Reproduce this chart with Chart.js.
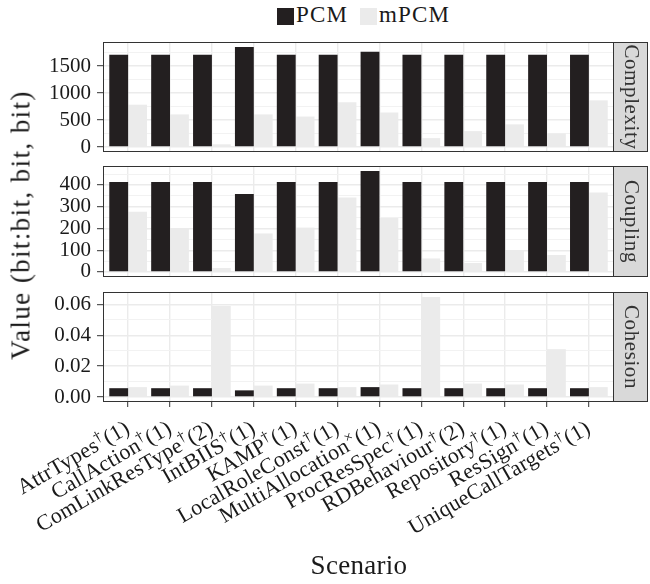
<!DOCTYPE html>
<html>
<head>
<meta charset="utf-8">
<script src="https://cdn.jsdelivr.net/npm/chart.js@4.4.0/dist/chart.umd.min.js"></script>
<style>
  html, body { margin: 0; padding: 0; background: #fff; }
  #wrap { position: relative; width: 650px; height: 584px; overflow: hidden;
          font-family: "Liberation Serif", "Times New Roman", serif; color: #1a1a1a; }
  #wrap canvas { position: absolute; left: 0; }
  .key { position: absolute; top: 8px; width: 17px; height: 17px; }
  .keytxt { position: absolute; top: 2px; font-size: 23px; line-height: 26px; letter-spacing: 1.2px; white-space: nowrap; }
  #ytitle { position: absolute; left: 21px; top: 225px; font-size: 27px; letter-spacing: 1.4px; white-space: nowrap;
            transform: translate(-50%, -50%) rotate(-90deg); }
  #xtitle { position: absolute; left: 359px; top: 550px; font-size: 27px; letter-spacing: 0.3px; white-space: nowrap;
            transform: translateX(-50%); }
</style>
</head>
<body>
<div id="wrap">
  <div class="key" style="left:277px;background:#231F20"></div>
  <div class="keytxt" style="left:296px">PCM</div>
  <div class="key" style="left:360px;background:#EBEBEB"></div>
  <div class="keytxt" style="left:379px">mPCM</div>
  <canvas id="cComplexity" width="650" height="134" style="top:30px"></canvas>
  <canvas id="cCoupling" width="650" height="135" style="top:154px"></canvas>
  <canvas id="cCohesion" width="650" height="304" style="top:280px"></canvas>
  <div id="ytitle">Value (bit:bit, bit, bit)</div>
  <div id="xtitle">Scenario</div>
</div>
<script>
// Scenarios on the x axis, with their superscript marker and number of runs
const categories = ['AttrTypes', 'CallAction', 'ComLinkResType', 'IntBIIS', 'KAMP', 'LocalRoleConst',
                    'MultiAllocation', 'ProcResSpec', 'RDBehaviour', 'Repository', 'ResSign', 'UniqueCallTargets'];
const markers = ['†', '†', '†', '†', '†', '†', '×', '†', '†', '†', '†', '†'];
const runs = [1, 1, 2, 1, 1, 1, 1, 1, 2, 1, 1, 1];

// Complexity (bit)
const complexityPCM  = [1710, 1710, 1710, 1855, 1710, 1710, 1765, 1710, 1710, 1710, 1710, 1710];
const complexityMPCM = [785, 605, 50, 605, 565, 830, 640, 165, 295, 420, 250, 865];
const complexityTicks = [0, 500, 1000, 1500];
const complexityMinor = [250, 750, 1250, 1750];

// Coupling (bit)
const couplingPCM  = [414, 414, 414, 359, 414, 414, 464, 414, 414, 414, 414, 414];
const couplingMPCM = [277, 200, 18, 177, 204, 342, 248, 62, 41, 100, 78, 365];
const couplingTicks = [0, 100, 200, 300, 400];
const couplingMinor = [50, 150, 250, 350, 450];

// Cohesion (bit:bit)
const cohesionPCM  = [0.0057, 0.0057, 0.0057, 0.0043, 0.0057, 0.0057, 0.0064, 0.0057, 0.0057, 0.0057, 0.0057, 0.0057];
const cohesionMPCM = [0.0064, 0.0074, 0.0589, 0.0074, 0.0087, 0.0064, 0.0081, 0.0648, 0.0087, 0.0081, 0.0310, 0.0064];
const cohesionTicks = [0, 0.02, 0.04, 0.06];
const cohesionMinor = [0.01, 0.03, 0.05];

const FONT = '"Liberation Serif", "Times New Roman", serif';
const INK = '#1a1a1a';
const FRAME = '#333333';
const GRID = '#EBEBEB';
const GRID_MINOR = '#F2F2F2';
const PCM_COLOR = '#231F20';
const MPCM_COLOR = '#EBEBEB';
const STRIP_W = 34;

// Panel border plus the grey facet strip on the right
const facetPlugin = {
  id: 'facet',
  afterDraw(chart, args, opts) {
    const { ctx, chartArea: a } = chart;
    ctx.save();
    ctx.lineWidth = 1;
    ctx.strokeStyle = FRAME;
    ctx.strokeRect(a.left + 0.5, a.top + 0.5, a.right - a.left - 1, a.bottom - a.top - 1);
    ctx.fillStyle = '#D9D9D9';
    ctx.fillRect(a.right, a.top + 0.5, STRIP_W, a.bottom - a.top - 1);
    ctx.strokeRect(a.right - 0.5, a.top + 0.5, STRIP_W, a.bottom - a.top - 1);
    ctx.translate(a.right + STRIP_W / 2, (a.top + a.bottom) / 2);
    ctx.rotate(Math.PI / 2);
    ctx.fillStyle = '#333333';
    ctx.font = '21px ' + FONT;
    ctx.letterSpacing = '0.6px';
    ctx.textAlign = 'center';
    ctx.textBaseline = 'middle';
    ctx.fillText(opts.title, 0, 0);
    ctx.restore();
  }
};

// Rotated scenario names under the bottom panel, with raised markers
const scenarioLabels = {
  id: 'scenarioLabels',
  afterDraw(chart) {
    const { ctx, chartArea: a, scales: { x } } = chart;
    const fs = 22, angle = 30 * Math.PI / 180;
    const base = fs + 'px ' + FONT, sup = Math.round(fs * 0.7) + 'px ' + FONT;
    categories.forEach((name, i) => {
      const tail = '(' + runs[i] + ')';
      ctx.save();
      ctx.letterSpacing = '0.3px';
      ctx.font = base;
      const w1 = ctx.measureText(name).width;
      const w3 = ctx.measureText(tail).width;
      ctx.font = sup;
      const w2 = ctx.measureText(markers[i]).width + 1;
      const total = w1 + w2 + w3;
      // baseline end of each label sits just right of and below its tick
      ctx.translate(x.getPixelForValue(i) + 3, a.bottom + 30);
      ctx.rotate(-angle);
      ctx.fillStyle = INK;
      ctx.textBaseline = 'alphabetic';
      ctx.textAlign = 'left';
      let cx = -total;
      ctx.font = base; ctx.fillText(name, cx, 0); cx += w1;
      ctx.font = sup;  ctx.fillText(markers[i], cx, -fs * 0.36); cx += w2;
      ctx.font = base; ctx.fillText(tail, cx, 0);
      ctx.restore();
    });
  }
};

function makePanel(id, pcm, mpcm, majors, minors, fmt, title, bottom) {
  const top = Math.max(...pcm, ...mpcm);
  const isMajor = v => majors.some(m => Math.abs(m - v) < 1e-9);
  const allTicks = majors.concat(minors).sort((p, q) => p - q);
  return new Chart(document.getElementById(id), {
    type: 'bar',
    data: {
      datasets: [
        { label: 'PCM', data: pcm.map((v, i) => ({ x: i, y: v })), backgroundColor: PCM_COLOR, borderWidth: 0 },
        { label: 'mPCM', data: mpcm.map((v, i) => ({ x: i, y: v })), backgroundColor: MPCM_COLOR, borderWidth: 0 }
      ]
    },
    options: {
      responsive: false,
      animation: false,
      events: [],
      layout: { padding: { top: 12, right: 36, bottom: bottom ? 177 : 12, left: 0 } },
      datasets: { bar: { categoryPercentage: 0.9, barPercentage: 1.0 } },
      plugins: { legend: { display: false }, tooltip: { enabled: false }, facet: { title } },
      scales: {
        x: {
          type: 'linear', min: -0.6, max: 11.6, offset: false,
          afterBuildTicks: s => { s.ticks = categories.map((_, i) => ({ value: i })); },
          afterFit: s => { s.height = bottom ? 5 : 0; s.paddingLeft = 0; s.paddingRight = 0; },
          ticks: { display: false },
          grid: { offset: false, color: GRID, lineWidth: 1.4, drawTicks: bottom, tickLength: 5,
                  tickColor: FRAME, tickWidth: 1 },
          border: { display: false }
        },
        y: {
          min: -0.05 * top, max: 1.05 * top,
          afterBuildTicks: s => { s.ticks = allTicks.map(v => ({ value: v })); },
          afterFit: s => { s.width = 103; s.paddingTop = 0; s.paddingBottom = 0; },
          ticks: {
            autoSkip: false, padding: 6, color: INK, font: { family: FONT, size: 21 },
            callback: v => isMajor(v) ? fmt(v) : ''
          },
          grid: {
            color: c => isMajor(c.tick.value) ? GRID : GRID_MINOR,
            lineWidth: c => isMajor(c.tick.value) ? 1.4 : 1,
            tickLength: 6,
            tickColor: c => isMajor(c.tick.value) ? FRAME : 'rgba(0,0,0,0)',
            tickWidth: 1
          },
          border: { display: false }
        }
      }
    },
    plugins: bottom ? [facetPlugin, scenarioLabels] : [facetPlugin]
  });
}

makePanel('cComplexity', complexityPCM, complexityMPCM, complexityTicks, complexityMinor, v => String(v), 'Complexity', false);
makePanel('cCoupling', couplingPCM, couplingMPCM, couplingTicks, couplingMinor, v => String(v), 'Coupling', false);
makePanel('cCohesion', cohesionPCM, cohesionMPCM, cohesionTicks, cohesionMinor, v => v.toFixed(2), 'Cohesion', true);
</script>
</body>
</html>
